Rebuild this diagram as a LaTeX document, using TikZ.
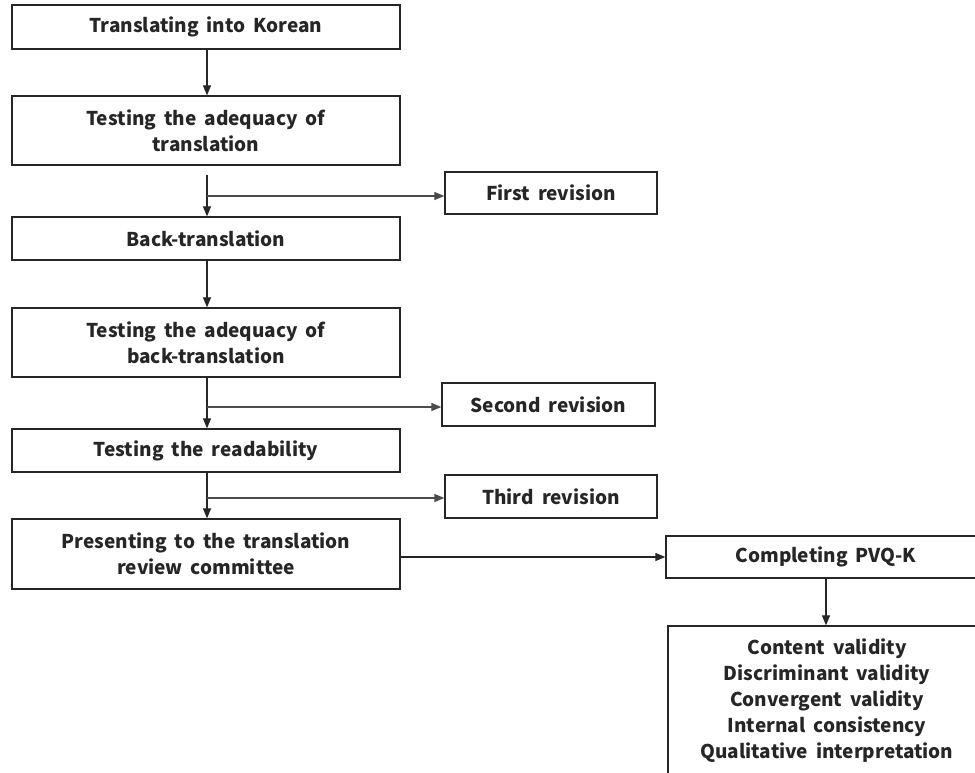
\documentclass[tikz,border=0pt]{standalone}
\usepackage{fontspec}
\setmainfont{Noto Sans CJK KR}
\usetikzlibrary{arrows.meta}
\newcommand\widespacing{\spaceskip=0.42em\relax}
\begin{document}
\begin{tikzpicture}[x=1pt,y=-1pt,
  box/.style={draw=black!85, line width=1.3pt, fill=white, inner sep=0pt, align=center,
    font=\fontsize{19}{26}\selectfont\bfseries, text=black!85,
    execute at begin node=\widespacing},
  arr/.style={line width=1.2pt, draw=black!85, -{Triangle[length=10pt,width=8pt]}},
  branch/.style={line width=1.2pt, draw=black!70, -{Triangle[length=10pt,width=8pt]}},
]
\useasboundingbox (0,0) rectangle (975,772);
\clip (0,0) rectangle (975,772);

\node[box, minimum width=388pt, minimum height=44pt] (n1) at (206,27) {Translating into Korean};
\node[box, minimum width=388pt, minimum height=69pt] (n2) at (206,130.5) {Testing the adequacy of\\translation};
\node[box, minimum width=388pt, minimum height=43pt] (n3) at (206,238.5) {Back-translation};
\node[box, minimum width=388pt, minimum height=69pt] (n4) at (206,342.5) {Testing the adequacy of\\back-translation};
\node[box, minimum width=388pt, minimum height=43pt] (n5) at (206,450.5) {Testing the readability};
\node[box, minimum width=388pt, minimum height=70pt] (n6) at (206,554) {Presenting to the translation\\review committee};

\node[box, minimum width=212pt, minimum height=42pt] (r1) at (551,193) {First revision};
\node[box, minimum width=213pt, minimum height=43pt] (r2) at (548.5,404.5) {Second revision};
\node[box, minimum width=212pt, minimum height=43pt] (r3) at (551,496.5) {Third revision};

\node[box, minimum width=320pt, minimum height=42pt] (c) at (826,557) {Completing PVQ-K};
\node[box, minimum width=318pt, minimum height=149pt] (f) at (827,700.5) {Content validity\\Discriminant validity\\Convergent validity\\Internal consistency\\Qualitative interpretation};

\coordinate (s2) at (207,175);
\coordinate (b1) at (207,196);
\coordinate (b2) at (207,407);
\coordinate (b3) at (207,498);

\draw[arr] (n1.south -| s2) -- (n2.north -| s2);
\draw[arr] (s2) -- (n3.north -| s2);
\draw[branch] (b1) -- (b1 -| r1.west);
\draw[arr] (n3.south -| s2) -- (n4.north -| s2);
\draw[arr] (n4.south -| s2) -- (n5.north -| s2);
\draw[branch] (b2) -- (b2 -| r2.west);
\draw[arr] (n5.south -| s2) -- (n6.north -| s2);
\draw[branch] (b3) -- (b3 -| r3.west);
\draw[arr] (n6.east |- c.west) -- (c.west);
\draw[arr] (c.south) -- (c.south |- f.north);
\end{tikzpicture}
\end{document}
